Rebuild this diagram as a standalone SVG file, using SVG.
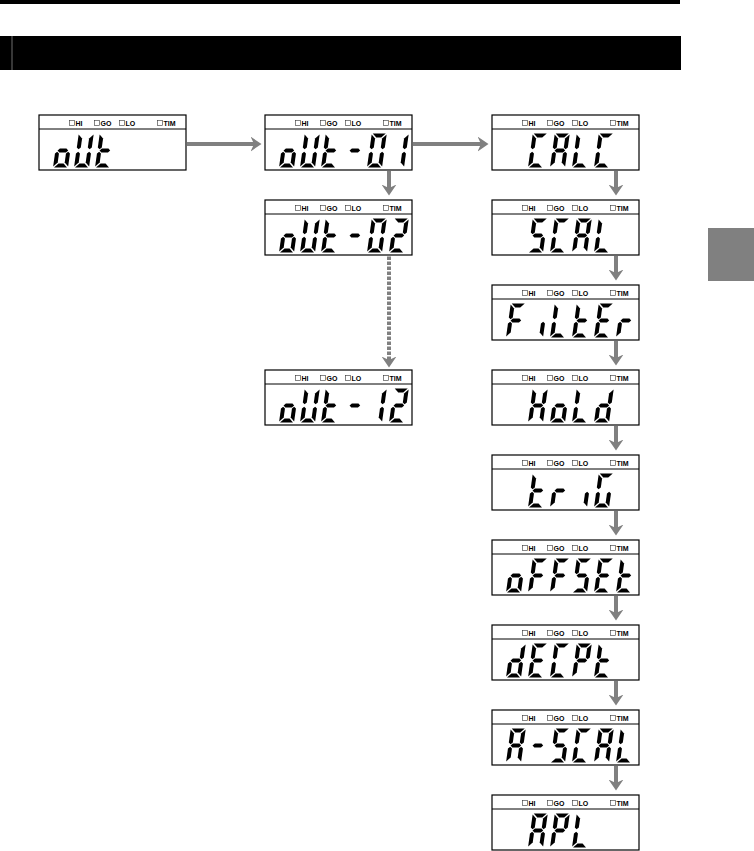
<svg xmlns="http://www.w3.org/2000/svg" xmlns:xlink="http://www.w3.org/1999/xlink" width="754" height="851" viewBox="0 0 754 851">
<style>
.box{fill:#fff;stroke:#000;stroke-width:1.2}
.dv{stroke:#000;stroke-width:1}
.sq{fill:#fff;stroke:#333;stroke-width:0.6}
.lb{font-family:"Liberation Sans",Arial,sans-serif;font-size:7px;font-weight:bold;fill:#000}
.seg{fill:#000}
.cn{stroke:#808080;stroke-width:4;fill:none;marker-end:url(#ah)}
.dash{stroke-dasharray:3.5 1.5}
</style>
<defs>
<marker id="ah" markerUnits="userSpaceOnUse" viewBox="0 0 11 15" refX="3.5" refY="7.5" markerWidth="11" markerHeight="15" orient="auto">
<path d="M0,0 L11,7.5 L0,15 L3.5,7.5 Z" fill="#808080"/>
</marker>
<polygon id="sa" class="seg" points="1,-34 14,-34 10,-30 5,-30"/>
<polygon id="sg" class="seg" points="2.2,-17 4.2,-19 10.8,-19 12.8,-17 10.8,-15 4.2,-15"/>
<polygon id="sd" class="seg" points="5,-4 10,-4 14,0 1,0"/>
<polygon id="sf" class="seg" points="0,-33 4,-29 4,-20 2,-18.2 0,-20"/>
<polygon id="sb" class="seg" points="15,-33 15,-20 13,-18.2 11,-20 11,-29"/>
<polygon id="se" class="seg" points="0,-14 2,-15.8 4,-14 4,-5 0,-1"/>
<polygon id="sc" class="seg" points="15,-14 15,-1 11,-5 11,-14 13,-15.8"/>
<g id="d-o" transform="skewX(-8)"><use href="#sc"/><use href="#sd"/><use href="#se"/><use href="#sg"/></g>
<g id="d-U" transform="skewX(-8)"><use href="#sb"/><use href="#sc"/><use href="#sd"/><use href="#se"/><use href="#sf"/></g>
<g id="d-t" transform="skewX(-8)"><use href="#sd"/><use href="#se"/><use href="#sf"/><use href="#sg"/></g>
<g id="d-dash" transform="skewX(-8)"><use href="#sg"/></g>
<g id="d-0" transform="skewX(-8)"><use href="#sa"/><use href="#sb"/><use href="#sc"/><use href="#sd"/><use href="#se"/><use href="#sf"/></g>
<g id="d-1" transform="skewX(-8)"><use href="#sb"/><use href="#sc"/></g>
<g id="d-2" transform="skewX(-8)"><use href="#sa"/><use href="#sb"/><use href="#sd"/><use href="#se"/><use href="#sg"/></g>
<g id="d-C" transform="skewX(-8)"><use href="#sa"/><use href="#sd"/><use href="#se"/><use href="#sf"/></g>
<g id="d-A" transform="skewX(-8)"><use href="#sa"/><use href="#sb"/><use href="#sc"/><use href="#se"/><use href="#sf"/><use href="#sg"/></g>
<g id="d-L" transform="skewX(-8)"><use href="#sd"/><use href="#se"/><use href="#sf"/></g>
<g id="d-S" transform="skewX(-8)"><use href="#sa"/><use href="#sc"/><use href="#sd"/><use href="#sf"/><use href="#sg"/></g>
<g id="d-F" transform="skewX(-8)"><use href="#sa"/><use href="#se"/><use href="#sf"/><use href="#sg"/></g>
<g id="d-i" transform="skewX(-8)"><use href="#sc"/></g>
<g id="d-E" transform="skewX(-8)"><use href="#sa"/><use href="#sd"/><use href="#se"/><use href="#sf"/><use href="#sg"/></g>
<g id="d-r" transform="skewX(-8)"><use href="#se"/><use href="#sg"/></g>
<g id="d-H" transform="skewX(-8)"><use href="#sb"/><use href="#sc"/><use href="#se"/><use href="#sf"/><use href="#sg"/></g>
<g id="d-d" transform="skewX(-8)"><use href="#sb"/><use href="#sc"/><use href="#sd"/><use href="#se"/><use href="#sg"/></g>
<g id="d-G" transform="skewX(-8)"><use href="#sa"/><use href="#sc"/><use href="#sd"/><use href="#se"/><use href="#sf"/></g>
<g id="d-P" transform="skewX(-8)"><use href="#sa"/><use href="#sb"/><use href="#se"/><use href="#sf"/><use href="#sg"/></g>
<g id="frame">
<rect class="box" x="0" y="0" width="147" height="55"/>
<line class="dv" x1="0" y1="14" x2="147" y2="14"/>
<rect class="sq" x="30.5" y="5.5" width="5" height="5"/>
<rect class="sq" x="55.5" y="5.5" width="5" height="5"/>
<rect class="sq" x="80.5" y="5.5" width="5" height="5"/>
<rect class="sq" x="118.5" y="5.5" width="5" height="5"/>
</g>
</defs>

<g id="page">
<rect x="0" y="0" width="680" height="4" fill="#000"/>
<rect x="0" y="36" width="681" height="34" fill="#000"/>
<line x1="12" y1="36" x2="12" y2="70" stroke="#8a8a8a" stroke-width="0.8"/>
<rect x="708" y="228" width="46" height="53" fill="#808080"/>
</g>

<g id="connectors">
<line class="cn" x1="187" y1="144" x2="254" y2="144"/>
<line class="cn" x1="413" y1="144" x2="481" y2="144"/>
<line class="cn" x1="389" y1="171" x2="389" y2="188"/>
<line class="cn dash" x1="389" y1="256.5" x2="389" y2="360"/>
<line class="cn" x1="616" y1="171" x2="616" y2="188"/>
<line class="cn" x1="616" y1="256" x2="616" y2="273"/>
<line class="cn" x1="616" y1="341" x2="616" y2="358"/>
<line class="cn" x1="616" y1="426" x2="616" y2="443"/>
<line class="cn" x1="616" y1="511" x2="616" y2="528"/>
<line class="cn" x1="616" y1="596" x2="616" y2="613"/>
<line class="cn" x1="616" y1="681" x2="616" y2="698"/>
<line class="cn" x1="616" y1="766" x2="616" y2="783"/>
</g>

<g id="n-out" transform="translate(39,115)">
<use href="#frame"/>
<text class="lb" x="36.5" y="10.5">HI</text><text class="lb" x="61.5" y="10.5">GO</text><text class="lb" x="86.5" y="10.5">LO</text><text class="lb" x="124.5" y="10.5">TIM</text>
<g aria-label="oUt"><use href="#d-o" x="14" y="52.5"/><use href="#d-U" x="35" y="52.5"/><use href="#d-t" x="56" y="52.5"/></g>
</g>

<g id="n-out01" transform="translate(265,115)">
<use href="#frame"/>
<text class="lb" x="36.5" y="10.5">HI</text><text class="lb" x="61.5" y="10.5">GO</text><text class="lb" x="86.5" y="10.5">LO</text><text class="lb" x="124.5" y="10.5">TIM</text>
<g aria-label="oUt-01"><use href="#d-o" x="14" y="52.5"/><use href="#d-U" x="35" y="52.5"/><use href="#d-t" x="56" y="52.5"/><use href="#d-dash" x="80" y="52.5"/><use href="#d-0" x="102" y="52.5"/><use href="#d-1" x="124" y="52.5"/></g>
</g>

<g id="n-out02" transform="translate(265,200)">
<use href="#frame"/>
<text class="lb" x="36.5" y="10.5">HI</text><text class="lb" x="61.5" y="10.5">GO</text><text class="lb" x="86.5" y="10.5">LO</text><text class="lb" x="124.5" y="10.5">TIM</text>
<g aria-label="oUt-02"><use href="#d-o" x="14" y="52.5"/><use href="#d-U" x="35" y="52.5"/><use href="#d-t" x="56" y="52.5"/><use href="#d-dash" x="80" y="52.5"/><use href="#d-0" x="102" y="52.5"/><use href="#d-2" x="124" y="52.5"/></g>
</g>

<g id="n-out12" transform="translate(265,370)">
<use href="#frame"/>
<text class="lb" x="36.5" y="10.5">HI</text><text class="lb" x="61.5" y="10.5">GO</text><text class="lb" x="86.5" y="10.5">LO</text><text class="lb" x="124.5" y="10.5">TIM</text>
<g aria-label="oUt-12"><use href="#d-o" x="14" y="52.5"/><use href="#d-U" x="35" y="52.5"/><use href="#d-t" x="56" y="52.5"/><use href="#d-dash" x="80" y="52.5"/><use href="#d-1" x="102" y="52.5"/><use href="#d-2" x="124" y="52.5"/></g>
</g>

<g id="n-calc" transform="translate(492,115)">
<use href="#frame"/>
<text class="lb" x="36.5" y="10.5">HI</text><text class="lb" x="61.5" y="10.5">GO</text><text class="lb" x="86.5" y="10.5">LO</text><text class="lb" x="124.5" y="10.5">TIM</text>
<g aria-label="CALC"><use href="#d-C" x="36" y="52.5"/><use href="#d-A" x="58" y="52.5"/><use href="#d-L" x="80" y="52.5"/><use href="#d-C" x="102" y="52.5"/></g>
</g>

<g id="n-scal" transform="translate(492,200)">
<use href="#frame"/>
<text class="lb" x="36.5" y="10.5">HI</text><text class="lb" x="61.5" y="10.5">GO</text><text class="lb" x="86.5" y="10.5">LO</text><text class="lb" x="124.5" y="10.5">TIM</text>
<g aria-label="SCAL"><use href="#d-S" x="36" y="52.5"/><use href="#d-C" x="58" y="52.5"/><use href="#d-A" x="80" y="52.5"/><use href="#d-L" x="102" y="52.5"/></g>
</g>

<g id="n-filter" transform="translate(492,285)">
<use href="#frame"/>
<text class="lb" x="36.5" y="10.5">HI</text><text class="lb" x="61.5" y="10.5">GO</text><text class="lb" x="86.5" y="10.5">LO</text><text class="lb" x="124.5" y="10.5">TIM</text>
<g aria-label="FiLtEr"><use href="#d-F" x="14" y="52.5"/><use href="#d-i" x="36" y="52.5"/><use href="#d-L" x="58" y="52.5"/><use href="#d-t" x="80" y="52.5"/><use href="#d-E" x="102" y="52.5"/><use href="#d-r" x="124" y="52.5"/></g>
</g>

<g id="n-hold" transform="translate(492,370)">
<use href="#frame"/>
<text class="lb" x="36.5" y="10.5">HI</text><text class="lb" x="61.5" y="10.5">GO</text><text class="lb" x="86.5" y="10.5">LO</text><text class="lb" x="124.5" y="10.5">TIM</text>
<g aria-label="HoLd"><use href="#d-H" x="36" y="52.5"/><use href="#d-o" x="58" y="52.5"/><use href="#d-L" x="80" y="52.5"/><use href="#d-d" x="102" y="52.5"/></g>
</g>

<g id="n-trig" transform="translate(492,455)">
<use href="#frame"/>
<text class="lb" x="36.5" y="10.5">HI</text><text class="lb" x="61.5" y="10.5">GO</text><text class="lb" x="86.5" y="10.5">LO</text><text class="lb" x="124.5" y="10.5">TIM</text>
<g aria-label="triG"><use href="#d-t" x="36" y="52.5"/><use href="#d-r" x="58" y="52.5"/><use href="#d-i" x="80" y="52.5"/><use href="#d-G" x="102" y="52.5"/></g>
</g>

<g id="n-offset" transform="translate(492,540)">
<use href="#frame"/>
<text class="lb" x="36.5" y="10.5">HI</text><text class="lb" x="61.5" y="10.5">GO</text><text class="lb" x="86.5" y="10.5">LO</text><text class="lb" x="124.5" y="10.5">TIM</text>
<g aria-label="oFFSEt"><use href="#d-o" x="14" y="52.5"/><use href="#d-F" x="36" y="52.5"/><use href="#d-F" x="58" y="52.5"/><use href="#d-S" x="80" y="52.5"/><use href="#d-E" x="102" y="52.5"/><use href="#d-t" x="124" y="52.5"/></g>
</g>

<g id="n-decpt" transform="translate(492,625)">
<use href="#frame"/>
<text class="lb" x="36.5" y="10.5">HI</text><text class="lb" x="61.5" y="10.5">GO</text><text class="lb" x="86.5" y="10.5">LO</text><text class="lb" x="124.5" y="10.5">TIM</text>
<g aria-label="dECPt"><use href="#d-d" x="14" y="52.5"/><use href="#d-E" x="36" y="52.5"/><use href="#d-C" x="58" y="52.5"/><use href="#d-P" x="80" y="52.5"/><use href="#d-t" x="102" y="52.5"/></g>
</g>

<g id="n-ascal" transform="translate(492,710)">
<use href="#frame"/>
<text class="lb" x="36.5" y="10.5">HI</text><text class="lb" x="61.5" y="10.5">GO</text><text class="lb" x="86.5" y="10.5">LO</text><text class="lb" x="124.5" y="10.5">TIM</text>
<g aria-label="A-SCAL"><use href="#d-A" x="14" y="52.5"/><use href="#d-dash" x="36" y="52.5"/><use href="#d-S" x="58" y="52.5"/><use href="#d-C" x="80" y="52.5"/><use href="#d-A" x="102" y="52.5"/><use href="#d-L" x="124" y="52.5"/></g>
</g>

<g id="n-apl" transform="translate(492,795)">
<use href="#frame"/>
<text class="lb" x="36.5" y="10.5">HI</text><text class="lb" x="61.5" y="10.5">GO</text><text class="lb" x="86.5" y="10.5">LO</text><text class="lb" x="124.5" y="10.5">TIM</text>
<g aria-label="APL"><use href="#d-A" x="36" y="52.5"/><use href="#d-P" x="58" y="52.5"/><use href="#d-L" x="80" y="52.5"/></g>
</g>
</svg>
